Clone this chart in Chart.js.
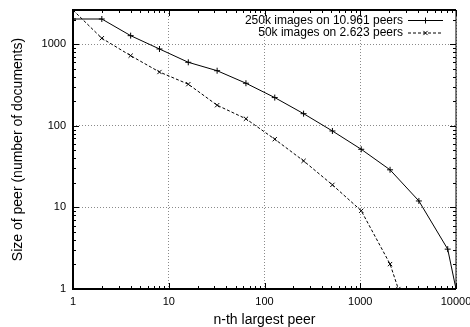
<!DOCTYPE html>
<html>
<head>
<meta charset="utf-8">
<script src="https://cdn.jsdelivr.net/npm/chart.js@4/dist/chart.umd.min.js"></script>
<style>
  html, body { margin: 0; padding: 0; background: #fff; }
  canvas { display: block; }
</style>
</head>
<body>
<canvas id="grafico" width="470" height="327"></canvas>
<script>
// rank of peer vs number of documents on it
const rank250k = [1, 2, 4, 8, 16, 32, 64, 128, 256, 512, 1024, 2048, 4096, 8192, 10000];
const size250k = [2040, 2040, 1275, 875, 601, 474, 333, 222, 141, 86.5, 51.6, 28.9, 12, 3.08, 1];
const rank50k = [1, 2, 4, 8, 16, 32, 64, 128, 256, 512, 1024, 2048, 2500];
const size50k = [2623, 1185, 725, 457, 324, 179, 122, 68.6, 37.2, 18.9, 9.1, 2.02, 1];
const labels = ["250k images on 10.961 peers", "50k images on 2.623 peers"];
const xMax = 10000, yMax = 2630;

const FONT = "'Liberation Sans', Arial, Helvetica, sans-serif";

function esDecada(v) {
    let l = Math.log10(v);
    return Math.abs(l - Math.round(l)) < 1e-9;
}

function logTicks(max) {
    let t = [];
    for (let p = 1; p <= max; p *= 10) {
        for (let d = 1; d <= 9; d++) {
            if (d * p <= max) t.push({ value: d * p });
        }
    }
    return t;
}

const marcoYTicks = {
    id: 'marcoYTicks',
    afterDraw(chart) {
        let { ctx, chartArea: a, scales } = chart;
        ctx.save();
        ctx.strokeStyle = '#000';
        ctx.lineWidth = 1;
        ctx.beginPath();
        scales.x.ticks.forEach(t => {
            let px = Math.round(scales.x.getPixelForValue(t.value)) + 0.5;
            let len = esDecada(t.value) ? 6 : 3;
            ctx.moveTo(px, a.bottom); ctx.lineTo(px, a.bottom - len);
            ctx.moveTo(px, a.top); ctx.lineTo(px, a.top + len);
        });
        scales.y.ticks.forEach(t => {
            let py = Math.round(scales.y.getPixelForValue(t.value)) + 0.5;
            let len = esDecada(t.value) ? 6 : 3;
            ctx.moveTo(a.left, py); ctx.lineTo(a.left + len, py);
            ctx.moveTo(a.right, py); ctx.lineTo(a.right - len, py);
        });
        ctx.stroke();

        // frame
        ctx.lineWidth = 2;
        ctx.beginPath();
        ctx.moveTo(a.right, a.top); ctx.lineTo(a.left, a.top);
        ctx.lineTo(a.left, a.bottom); ctx.lineTo(a.right, a.bottom);
        ctx.stroke();
        ctx.lineWidth = 1;
        ctx.beginPath();
        ctx.moveTo(a.right, a.top); ctx.lineTo(a.right, a.bottom);
        ctx.stroke();

        // legend inside, text left of the sample
        ctx.font = '12px ' + FONT;
        ctx.fillStyle = '#000';
        ctx.textAlign = 'right';
        ctx.textBaseline = 'middle';
        chart.data.datasets.forEach((ds, i) => {
            let y = 20.5 + i * 12.5;
            ctx.fillText(ds.label, 403, y);
            ctx.save();
            ctx.lineWidth = 1;
            ctx.setLineDash(ds.borderDash || []);
            ctx.beginPath();
            ctx.moveTo(408, y); ctx.lineTo(443, y);
            ctx.stroke();
            ctx.restore();
            Chart.helpers.drawPoint(ctx, {
                pointStyle: ds.pointStyle, radius: ds.pointRadius,
                borderWidth: 1, rotation: 0
            }, 425.5, y);
        });
        ctx.restore();
    }
};

new Chart(document.getElementById('grafico'), {
    type: 'line',
    data: {
        datasets: [
            {
                label: labels[0],
                data: rank250k.map((x, i) => ({ x, y: size250k[i] })),
                borderColor: '#000', backgroundColor: '#000',
                borderWidth: 1, pointStyle: 'cross', pointRadius: 3,
                pointBorderWidth: 1, tension: 0
            },
            {
                label: labels[1],
                data: rank50k.map((x, i) => ({ x, y: size50k[i] })),
                borderColor: '#000', backgroundColor: '#000',
                borderWidth: 1, borderDash: [3, 2], pointStyle: 'crossRot', pointRadius: 3,
                pointBorderWidth: 1, tension: 0
            }
        ]
    },
    options: {
        responsive: false,
        animation: false,
        devicePixelRatio: 1,
        layout: { padding: { top: 10, right: 14, left: 0, bottom: 0 } },
        plugins: { legend: { display: false }, tooltip: { enabled: false } },
        scales: {
            x: {
                type: 'logarithmic', min: 1, max: xMax,
                afterBuildTicks: s => { s.ticks = logTicks(xMax); },
                afterFit: s => { s.height = 38; s.paddingLeft = 0; s.paddingRight = 0; },
                border: { display: false, dash: [1, 2] },
                grid: {
                    drawTicks: false,
                    color: c => (c.tick && esDecada(c.tick.value)) ? '#8a8a8a' : 'rgba(0,0,0,0)'
                },
                ticks: {
                    autoSkip: false, maxRotation: 0, padding: 6, color: '#000',
                    font: { family: FONT, size: 11 },
                    callback: v => esDecada(v) ? String(v) : ''
                },
                title: {
                    display: true, text: 'n-th largest peer', color: '#000',
                    font: { family: FONT, size: 14 }, padding: { top: 0, bottom: -2 }
                }
            },
            y: {
                type: 'logarithmic', min: 1, max: yMax,
                afterBuildTicks: s => { s.ticks = logTicks(yMax); },
                afterFit: s => { s.width = 73; s.paddingTop = 0; s.paddingBottom = 0; },
                border: { display: false, dash: [1, 2] },
                grid: {
                    drawTicks: false,
                    color: c => (c.tick && esDecada(c.tick.value)) ? '#8a8a8a' : 'rgba(0,0,0,0)'
                },
                ticks: {
                    autoSkip: false, padding: 7, color: '#000',
                    font: { family: FONT, size: 11 },
                    callback: v => esDecada(v) ? String(v) : ''
                },
                title: {
                    display: true, text: 'Size of peer (number of documents)', color: '#000',
                    font: { family: FONT, size: 14 }, padding: { top: 10, bottom: 0 }
                }
            }
        }
    },
    plugins: [marcoYTicks]
});
</script>
</body>
</html>
